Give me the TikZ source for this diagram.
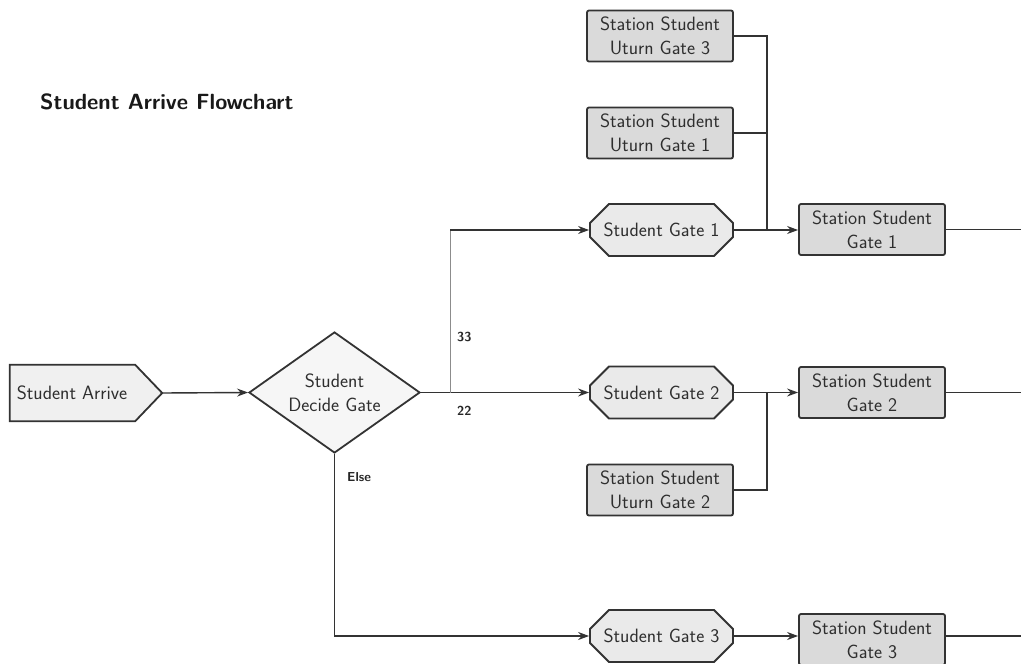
\documentclass[tikz,border=0pt]{standalone}
\usetikzlibrary{shapes.geometric,shapes.misc,arrows.meta}
\definecolor{bordc}{HTML}{333333}
\definecolor{arrivefill}{HTML}{F0F0F0}
\definecolor{decidefill}{HTML}{F6F6F6}
\definecolor{gatefill}{HTML}{EAEAEA}
\definecolor{stationfill}{HTML}{DADADA}
\begin{document}
\begin{tikzpicture}[x=1pt,y=-1pt,
  every node/.style={font=\sffamily\fontsize{19.3}{24}\selectfont, text=black!82},
  base/.style={draw=bordc, line width=1.8pt, inner sep=0pt, align=center},
  arrivebox/.style={inner sep=0pt, minimum width=152pt, minimum height=56pt},
  decidebox/.style={base, shape=diamond, aspect=1.41, fill=decidefill, minimum width=171pt, minimum height=121pt},
  gatebox/.style={base, shape=chamfered rectangle, chamfered rectangle xsep=12pt, chamfered rectangle ysep=12pt, fill=gatefill, minimum width=143pt, minimum height=52pt},
  stationbox/.style={base, rectangle, rounded corners=2pt, fill=stationfill, minimum width=146pt, minimum height=51pt},
  conn/.style={draw=bordc, line width=1.4pt},
  arr/.style={conn, -{Stealth[length=11pt,width=8pt]}},
  lbl/.style={inner sep=0pt, font=\sffamily\bfseries\fontsize{13}{15}\selectfont, text=black!85},
]
\useasboundingbox (0,0) rectangle (1021,664);

\node[inner sep=0pt, font=\sffamily\bfseries\fontsize{22}{26}\selectfont, text=black!90, anchor=west] (title) at (40,102) {Student Arrive Flowchart};

\node[arrivebox] (arrive) at (86,393) {Student Arrive\hspace*{28pt}};
\draw[draw=bordc, line width=1.8pt, fill=arrivefill]
  (arrive.north west) -- ([xshift=-27pt]arrive.north east) -- (arrive.east)
  -- ([xshift=-27pt]arrive.south east) -- (arrive.south west) -- cycle;
\node[arrivebox] at (arrive) {Student Arrive\hspace*{28pt}};

\node[decidebox] (decide) at (334.5,392.5) {Student\\Decide Gate};

\node[gatebox] (g1) at (661.5,230) {Student Gate 1};
\node[gatebox] (g2) at (661.5,392.5) {Student Gate 2};
\node[gatebox] (g3) at (661.5,636) {Student Gate 3};

\node[stationbox] (s1) at (872,229.5) {Station Student\\Gate 1};
\node[stationbox] (s2) at (872,392.5) {Station Student\\Gate 2};
\node[stationbox] (s3) at (872,639.5) {Station Student\\Gate 3};

\node[stationbox] (u3) at (660,36) {Station Student\\Uturn Gate 3};
\node[stationbox] (u1) at (660,133) {Station Student\\Uturn Gate 1};
\node[stationbox] (u2) at (660,490) {Station Student\\Uturn Gate 2};

\coordinate (split) at (450,392.5);
\coordinate (j1) at (767,230);
\coordinate (j2) at (767,392.5);
\coordinate (e1) at (1021,229.5);
\coordinate (e2) at (1021,392.5);
\coordinate (e3) at (1021,636);

\draw[arr] (arrive.east) -- (decide.west);
\draw[arr] (decide.east) -- (g2.west);
\draw[draw=black!45, line width=1pt] (split) -- (split |- g1.west);
\draw[arr] (split |- g1.west) -- (g1.west);
\draw[arr] (decide.south) |- (g3.west);

\node[lbl, anchor=west] (l33) at (457,337) {33};
\node[lbl, anchor=west] (l22) at (457,411) {22};
\node[lbl, anchor=west] (lelse) at (347,477) {Else};

\draw[arr] (g1.east) -- (s1.west |- g1.east);
\draw[arr] (g2.east) -- (s2.west);
\draw[arr] (g3.east) -- (s3.west |- g3.east);

\draw[conn] (u3.east) -| (j1);
\draw[conn] (u1.east) -- (u1.east -| j1);
\draw[conn] (u2.east) -| (j2);

\draw[conn] (s1.east) -- (e1);
\draw[conn] (s2.east) -- (e2);
\draw[conn] (s3.east |- e3) -- (e3);
\end{tikzpicture}
\end{document}
